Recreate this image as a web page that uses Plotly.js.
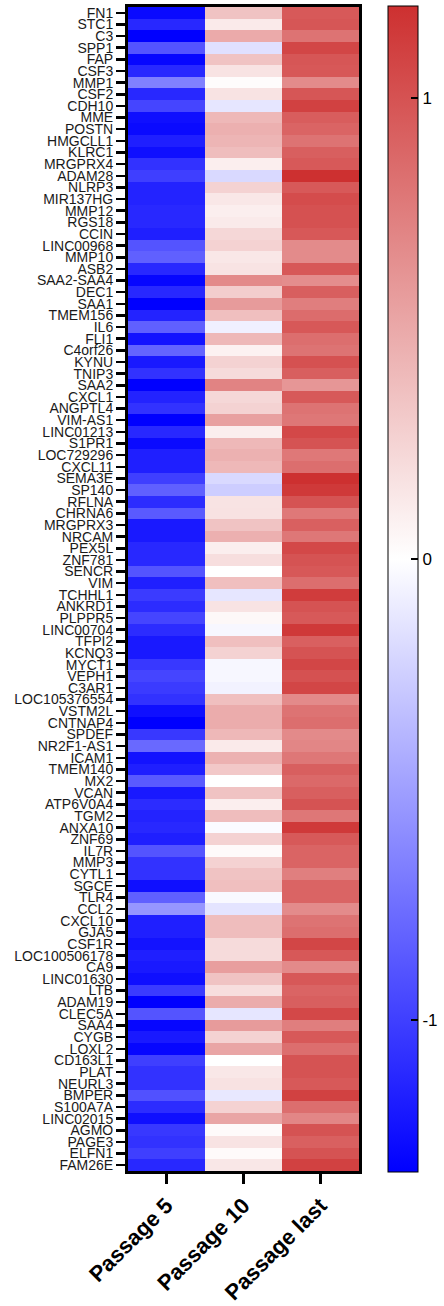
<!DOCTYPE html>
<html>
<head>
<meta charset="utf-8">
<script src="https://cdn.plot.ly/plotly-3.0.1.min.js"></script>
<style>
html,body{margin:0;padding:0;background:#fff;}
#chart{width:444px;height:1306px;}
</style>
</head>
<body>
<div id="chart"></div>
<script>
const columns = ["Passage 5", "Passage 10", "Passage last"];

const genes = ["FN1","STC1","C3","SPP1","FAP","CSF3","MMP1","CSF2","CDH10","MME",
"POSTN","HMGCLL1","KLRC1","MRGPRX4","ADAM28","NLRP3","MIR137HG","MMP12","RGS18","CCIN",
"LINC00968","MMP10","ASB2","SAA2-SAA4","DEC1","SAA1","TMEM156","IL6","FLI1","C4orf26",
"KYNU","TNIP3","SAA2","CXCL1","ANGPTL4","VIM-AS1","LINC01213","S1PR1","LOC729296","CXCL11",
"SEMA3E","SP140","RFLNA","CHRNA6","MRGPRX3","NRCAM","PEX5L","ZNF781","SENCR","VIM",
"TCHHL1","ANKRD1","PLPPR5","LINC00704","TFPI2","KCNQ3","MYCT1","VEPH1","C3AR1","LOC105376554",
"VSTM2L","CNTNAP4","SPDEF","NR2F1-AS1","ICAM1","TMEM140","MX2","VCAN","ATP6V0A4","TGM2",
"ANXA10","ZNF69","IL7R","MMP3","CYTL1","SGCE","TLR4","CCL2","CXCL10","GJA5",
"CSF1R","LOC100506178","CA9","LINC01630","LTB","ADAM19","CLEC5A","SAA4","CYGB","LOXL2",
"CD163L1","PLAT","NEURL3","BMPER","S100A7A","LINC02015","AGMO","PAGE3","ELFN1","FAM26E"];

const passage5 = [-1.28,-1.12,-1.33,-0.89,-1.30,-1.12,-0.66,-1.12,-0.97,-1.25,
-1.28,-1.17,-1.25,-1.07,-1.00,-1.15,-1.15,-1.12,-1.12,-1.17,
-0.89,-0.83,-1.12,-1.30,-1.12,-1.33,-1.15,-0.83,-1.23,-0.81,
-1.20,-1.07,-1.33,-1.15,-1.07,-1.33,-1.12,-1.28,-1.17,-1.17,
-1.00,-0.83,-1.10,-0.86,-1.20,-1.20,-1.12,-1.12,-0.89,-1.17,
-1.02,-1.10,-0.97,-1.10,-1.20,-1.20,-1.04,-0.97,-1.02,-1.07,
-1.25,-1.33,-1.04,-0.78,-1.23,-1.17,-0.86,-1.20,-1.10,-1.15,
-1.12,-1.17,-0.89,-1.07,-1.07,-1.25,-0.83,-0.55,-1.17,-1.17,
-1.23,-1.17,-1.20,-1.25,-1.02,-1.33,-0.89,-1.30,-1.20,-1.30,
-1.00,-1.07,-1.07,-0.91,-1.10,-1.25,-1.04,-1.07,-1.00,-1.12];

const passage10 = [0.35,0.12,0.49,-0.16,0.35,0.16,0.02,0.16,-0.13,0.41,
0.46,0.43,0.38,0.10,-0.20,0.26,0.14,0.10,0.12,0.23,
0.26,0.14,0.16,0.68,0.29,0.58,0.37,-0.08,0.41,0.08,
0.26,0.21,0.72,0.23,0.26,0.55,0.10,0.41,0.45,0.41,
-0.20,-0.26,0.16,0.17,0.35,0.46,0.10,0.19,0.00,0.37,
-0.13,0.16,0.04,-0.04,0.37,0.26,-0.04,-0.04,-0.07,0.37,
0.48,0.48,0.41,0.12,0.45,0.32,0.00,0.35,0.10,0.38,
-0.02,0.26,0.03,0.26,0.35,0.37,-0.03,-0.14,0.38,0.38,
0.21,0.21,0.56,0.35,0.19,0.48,-0.13,0.58,0.26,0.52,
0.00,0.14,0.17,-0.12,0.26,0.52,0.03,0.16,0.03,0.14];

const passageLast = [0.96,0.98,0.81,1.07,0.98,0.97,0.67,0.98,1.10,0.94,
0.90,0.81,0.93,0.96,1.20,0.96,1.04,1.01,1.01,0.97,
0.67,0.67,0.97,0.66,0.93,0.75,0.85,0.97,0.84,0.81,
1.01,0.93,0.61,0.96,0.81,0.79,1.06,1.00,0.78,0.84,
1.20,1.15,1.00,0.78,0.92,0.79,1.06,1.00,0.97,0.84,
1.13,1.00,0.96,1.15,0.92,1.00,1.07,1.01,1.07,0.68,
0.81,0.84,0.68,0.70,0.79,0.93,0.87,0.93,1.00,0.79,
1.15,0.96,0.90,0.90,0.74,0.90,0.90,0.67,0.81,0.84,
1.07,0.97,0.68,0.97,0.90,0.93,1.06,0.75,0.96,0.84,
1.00,1.00,0.96,1.10,0.84,0.70,1.00,0.92,1.00,1.10];

const colorTicks = [-1, 0, 1];
const colorTickText = ["-1", "0", "1"];

const zMin = -1.33, zMax = 1.2;

const z = genes.map((g, i) => [passage5[i], passage10[i], passageLast[i]]);
const whitePos = (0 - zMin) / (zMax - zMin);

const trace = {
  type: "heatmap",
  x: columns,
  y: genes,
  z: z,
  zmin: zMin,
  zmax: zMax,
  colorscale: [[0, "rgb(0,0,255)"], [whitePos, "rgb(255,255,255)"], [1, "rgb(205,48,48)"]],
  xgap: 0, ygap: 0,
  hoverinfo: "skip",
  colorbar: {
    xref: "container",
    x: 388 / 444,
    xanchor: "left",
    xpad: 0,
    ypad: 0,
    y: 0.5,
    yanchor: "middle",
    lenmode: "pixels",
    len: 1166,
    thicknessmode: "pixels",
    thickness: 30,
    outlinewidth: 1,
    outlinecolor: "#000",
    tickmode: "array",
    tickvals: colorTicks,
    ticktext: colorTickText,
    ticks: "inside",
    ticklen: 7,
    tickwidth: 2,
    tickcolor: "#000",
    tickfont: {family: "Liberation Sans, Arial, sans-serif", size: 17, color: "#000"}
  }
};

const layout = {
  width: 444,
  height: 1306,
  margin: {l: 128, r: 85, t: 7, b: 135},
  paper_bgcolor: "#fff",
  plot_bgcolor: "#fff",
  showlegend: false,
  xaxis: {
    type: "category",
    showline: true, mirror: true, linewidth: 3, linecolor: "#000",
    ticks: "outside", ticklen: 10, tickwidth: 3, tickcolor: "#000",
    tickangle: -45,
    tickfont: {family: "Liberation Sans, Arial, sans-serif", size: 22, color: "#000", weight: "bold"},
    showgrid: false, zeroline: false, fixedrange: true
  },
  yaxis: {
    type: "category",
    autorange: "reversed",
    tickmode: "array",
    tickvals: genes,
    ticktext: genes,
    showline: true, mirror: true, linewidth: 3, linecolor: "#000",
    ticks: "outside", ticklen: 9, tickwidth: 2.5, tickcolor: "#000",
    tickfont: {family: "Liberation Sans, Arial, sans-serif", size: 14, color: "#1a1a1a"},
    showgrid: false, zeroline: false, fixedrange: true
  }
};

Plotly.newPlot("chart", [trace], layout, {displayModeBar: false, staticPlot: true});
</script>
</body>
</html>
